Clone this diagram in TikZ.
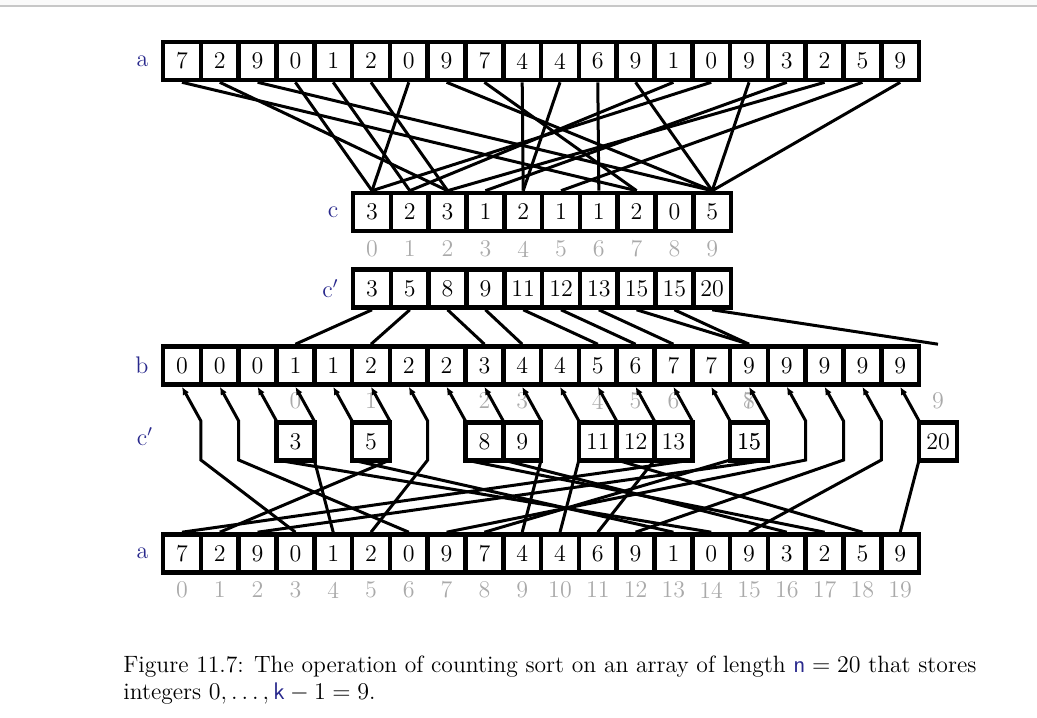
\documentclass[tikz,border=0pt]{standalone}
\usepackage{tikz}
\usetikzlibrary{positioning,arrows.meta}
\definecolor{lblblue}{RGB}{40,40,140}
\definecolor{idxgray}{RGB}{170,170,170}
\newcommand{\cellfont}{\fontsize{12}{14}\selectfont}
\tikzset{
  cell/.style={draw, line width=2.3pt, minimum width=18.9pt, minimum height=19pt, inner sep=0pt, font=\cellfont},
  idx/.style={text=idxgray, inner sep=0pt, font=\cellfont},
  lbl/.style={text=lblblue, inner sep=0pt, font=\cellfont},
  wire/.style={line width=1.5pt},
}
\begin{document}
\begin{tikzpicture}[x=0.5pt,y=-0.5pt]
\useasboundingbox (0,0) rectangle (1037,717);
\fill[black!2] (0,0) rectangle (1037,6);
\draw[black!22,line width=1pt] (0,6) -- (1037,6);

% input array a
\foreach \v [count=\i from 0] in {7,2,9,0,1,2,0,9,7,4,4,6,9,1,0,9,3,2,5,9}
  \node[cell] (atop\i) at ({182+37.8*\i},61) {\v};
\node[lbl,left=6pt of atop0] {a};

% counts c and c'
\foreach \v [count=\i from 0] in {3,2,3,1,2,1,1,2,0,5} {
  \node[cell] (c\i) at ({372+37.8*\i},212) {\v};
  \node[idx] at ({372+37.8*\i},249) {\i};
}
\foreach \v [count=\i from 0] in {3,5,8,9,11,12,13,15,15,20}
  \node[cell] (cp\i) at ({372+37.8*\i},288.5) {\v};
\node[lbl,left=6pt of c0] {c};
\node[lbl,left=6pt of cp0] {c$'$};

\foreach \v [count=\i from 0] in {7,2,9,0,1,2,0,9,7,4,4,6,9,1,0,9,3,2,5,9}
  \draw[wire] (atop\i.south) -- (c\v.north);

% output array b
\foreach \v [count=\i from 0] in {0,0,0,1,1,2,2,2,3,4,4,5,6,7,7,9,9,9,9,9}
  \node[cell] (b\i) at ({182+37.8*\i},365.5) {\v};
\node[cell,draw=none] (b20) at ({182+37.8*20},365.5) {};
\node[lbl,left=6pt of b0] {b};

\foreach \v [count=\i from 0] in {3,5,8,9,11,12,13,15,15,20} {
  \draw[wire] (cp\i.south) -- (b\v.north);
  \node[idx] at ({182+37.8*\v},401) {\i};
  \node[cell] (cq\i) at ({182+37.8*\v},441.5) {\v};
}
\node[lbl] at (145,437) {c$'$};

% input array a again
\foreach \v [count=\i from 0] in {7,2,9,0,1,2,0,9,7,4,4,6,9,1,0,9,3,2,5,9} {
  \node[cell] (abot\i) at ({182+37.8*\i},553.5) {\v};
  \node[idx] at ({182+37.8*\i},590) {\i};
}
\node[lbl,left=6pt of abot0] {a};

\coordinate (up) at (0,421);
\coordinate (dn) at (0,460);
\foreach \s [count=\j from 0] in {3,6,14,4,13,1,5,17,16,9,10,18,11,0,8,2,7,12,15,19}
  \draw[wire,-{Latex[length=4pt,width=3.5pt]}] (abot\s.north)
    -- ([xshift=9.45pt]b\j.center |- dn) -- ([xshift=9.45pt]b\j.center |- up) -- (b\j.south);

\node[anchor=north west, align=left, inner sep=0pt, font=\fontsize{11.8}{13.5}\selectfont] (cap) at (123,655)
  {Figure 11.7: The operation of counting sort on an array of length $\textcolor{lblblue}{\mathsf{n}}=20$ that stores\\
   integers $0,\ldots,\textcolor{lblblue}{\mathsf{k}}-1=9$.};
\end{tikzpicture}
\end{document}
